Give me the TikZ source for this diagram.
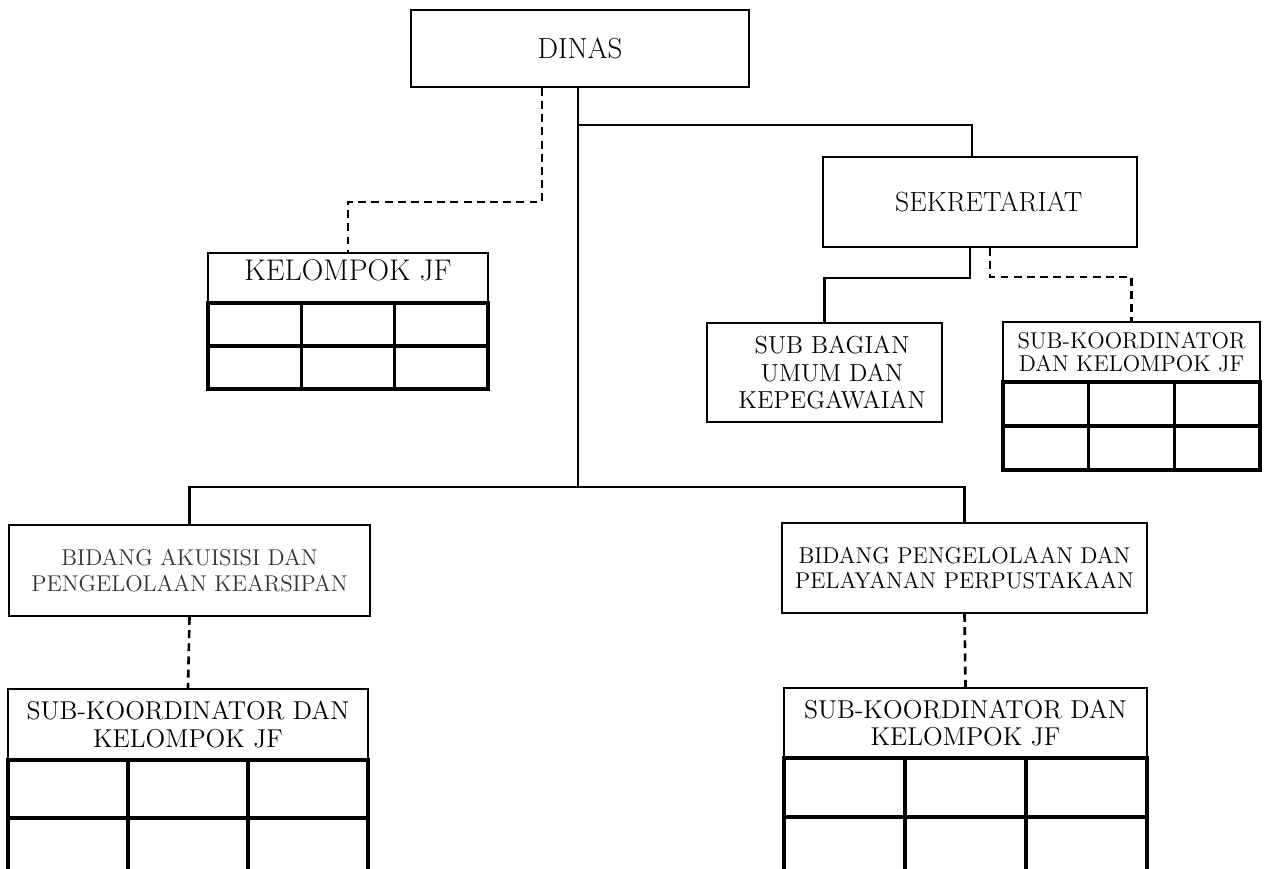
\documentclass[tikz,border=0pt]{standalone}
\begin{document}
\begin{tikzpicture}[x=0.02cm,y=-0.02cm,
  box/.style={draw,line width=1.1pt,align=center,inner sep=1pt},
  cell/.style={draw,line width=1.8pt,inner sep=0pt},
  link/.style={line width=1.5pt},
  jflink/.style={line width=1.5pt,dash pattern=on 4.5pt off 3pt}]
\clip (0,0) rectangle (1266,868);
% top level
\node [box,name=dinas,minimum width=6.76cm,minimum height=1.54cm,font=\fontsize{16.5}{19}\selectfont] at (580,48.5){DINAS};
\node [box,name=sek,minimum width=6.28cm,minimum height=1.8cm,font=\fontsize{15.8}{18}\selectfont] at (980,202){\hspace*{0.35cm}SEKRETARIAT};
\node [box,name=subbag,minimum width=4.7cm,minimum height=1.98cm,font=\fontsize{14}{15.9}\selectfont] at (824.5,372.5){\hspace*{0.3cm}SUB BAGIAN\\\hspace*{0.3cm}UMUM DAN\\\hspace*{0.3cm}KEPEGAWAIAN};
\node [box,name=bid1,minimum width=7.22cm,minimum height=1.82cm,text=black!80,font=\fontsize{13}{14.5}\selectfont] at (189.5,570.5){BIDANG AKUISISI DAN\\PENGELOLAAN KEARSIPAN};
\node [box,name=bid2,minimum width=7.3cm,minimum height=1.8cm,font=\fontsize{13}{14.7}\selectfont] at (964.5,568){BIDANG PENGELOLAAN DAN\\PELAYANAN PERPUSTAKAAN};
% kelompok JF under dinas
\node [box,name=jfhead,minimum width=5.6cm,minimum height=1.0cm,text depth=0.3cm,font=\fontsize{17}{19}\selectfont] at (348,278){KELOMPOK JF};
\node [cell,name=jf11,minimum width=1.867cm,minimum height=0.86cm] at (254.67,324.5){};
\node [cell,name=jf12,minimum width=1.867cm,minimum height=0.86cm] at (348,324.5){};
\node [cell,name=jf13,minimum width=1.867cm,minimum height=0.86cm] at (441.33,324.5){};
\node [cell,name=jf21,minimum width=1.867cm,minimum height=0.86cm] at (254.67,367.5){};
\node [cell,name=jf22,minimum width=1.867cm,minimum height=0.86cm] at (348,367.5){};
\node [cell,name=jf23,minimum width=1.867cm,minimum height=0.86cm] at (441.33,367.5){};
% sub-koordinator under sekretariat
\node [box,name=skhead,minimum width=5.14cm,minimum height=1.2cm,font=\fontsize{13}{13.5}\selectfont] at (1131.5,352){SUB-KOORDINATOR\\DAN KELOMPOK JF};
\node [cell,name=sk11,minimum width=1.713cm,minimum height=0.88cm] at (1045.8,404){};
\node [cell,name=sk12,minimum width=1.713cm,minimum height=0.88cm] at (1131.5,404){};
\node [cell,name=sk13,minimum width=1.713cm,minimum height=0.88cm] at (1217.2,404){};
\node [cell,name=sk21,minimum width=1.713cm,minimum height=0.88cm] at (1045.8,448){};
\node [cell,name=sk22,minimum width=1.713cm,minimum height=0.88cm] at (1131.5,448){};
\node [cell,name=sk23,minimum width=1.713cm,minimum height=0.88cm] at (1217.2,448){};
% sub-koordinator under bidang akuisisi
\node [box,name=blhead,minimum width=7.2cm,minimum height=1.42cm,font=\fontsize{14.7}{15.5}\selectfont] at (188,724.5){SUB-KOORDINATOR DAN\\KELOMPOK JF};
\node [cell,name=bl11,minimum width=2.4cm,minimum height=1.16cm] at (68,789){};
\node [cell,name=bl12,minimum width=2.4cm,minimum height=1.16cm] at (188,789){};
\node [cell,name=bl13,minimum width=2.4cm,minimum height=1.16cm] at (308,789){};
\node [cell,name=bl21,minimum width=2.4cm,minimum height=1.16cm] at (68,847){};
\node [cell,name=bl22,minimum width=2.4cm,minimum height=1.16cm] at (188,847){};
\node [cell,name=bl23,minimum width=2.4cm,minimum height=1.16cm] at (308,847){};
% sub-koordinator under bidang pengelolaan
\node [box,name=brhead,minimum width=7.26cm,minimum height=1.4cm,font=\fontsize{14.7}{15.5}\selectfont] at (965.5,723){SUB-KOORDINATOR DAN\\KELOMPOK JF};
\node [cell,name=br11,minimum width=2.42cm,minimum height=1.18cm] at (844.5,787.5){};
\node [cell,name=br12,minimum width=2.42cm,minimum height=1.18cm] at (965.5,787.5){};
\node [cell,name=br13,minimum width=2.42cm,minimum height=1.18cm] at (1086.5,787.5){};
\node [cell,name=br21,minimum width=2.42cm,minimum height=1.18cm] at (844.5,846.5){};
\node [cell,name=br22,minimum width=2.42cm,minimum height=1.18cm] at (965.5,846.5){};
\node [cell,name=br23,minimum width=2.42cm,minimum height=1.18cm] at (1086.5,846.5){};
% connectors
\coordinate (bar) at (578,487);
\coordinate (j1) at (578,125);
\coordinate (j2) at (972,125);
\coordinate (d1) at (542,202);
\coordinate (s1) at (970,278);
\coordinate (s2) at (990,277);
\draw[link] (dinas.south -| bar)--(bar);
\draw[link] (j1)--(j2)--(sek.north -| j2);
\draw[link] (bid1.north)|-(bar)-|(bid2.north);
\draw[link] (sek.south -| s1)--(s1)-|(subbag.north);
\draw[jflink] (dinas.south -| d1)--(d1)-|(jfhead.north);
\draw[jflink] (sek.south -| s2)--(s2)-|(skhead.north);
\draw[jflink] (bid1.south)--(blhead.north);
\draw[jflink] (bid2.south)--(brhead.north);
\end{tikzpicture}
\end{document}
